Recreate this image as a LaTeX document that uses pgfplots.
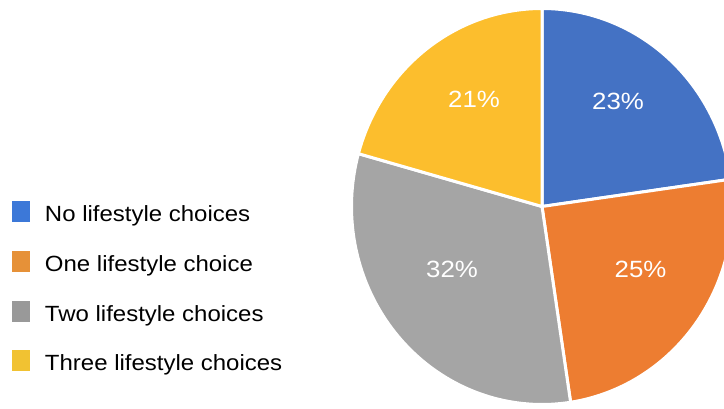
\documentclass[border=0pt]{standalone}
\usepackage{fontspec}
\setmainfont{Liberation Sans}
\newfontfamily\legfont[FakeStretch=1.09]{Liberation Sans}
\newfontfamily\labfont[FakeStretch=1.1]{Liberation Sans}
\usepackage{pgfplots}
\pgfplotsset{compat=1.18}
\usepackage{pgfplotstable}

\definecolor{pieblue}{RGB}{68,114,196}
\definecolor{pieorange}{RGB}{237,125,49}
\definecolor{piegray}{RGB}{165,165,165}
\definecolor{pieyellow}{RGB}{252,190,45}
\definecolor{legblue}{RGB}{60,120,216}
\definecolor{legorange}{RGB}{230,145,56}
\definecolor{leggray}{RGB}{153,153,153}
\definecolor{legyellow}{RGB}{241,194,50}

% share of each category (percent), clockwise from 12 o'clock
\pgfplotstableread{
value
22.8
24.8
31.7
20.7
}\piedata

% label positions (px coordinates of the picture) and printed percentages
\pgfplotstableread{
x y lab
618 307 23
640.5 139 25
452 139 32
474 309 21
}\labdata

\pgfplotstablegetelem{0}{value}\of\piedata \let\vA\pgfplotsretval
\pgfplotstablegetelem{1}{value}\of\piedata \let\vB\pgfplotsretval
\pgfplotstablegetelem{2}{value}\of\piedata \let\vC\pgfplotsretval
\pgfplotstablegetelem{3}{value}\of\piedata \let\vD\pgfplotsretval
\pgfmathsetmacro\aZ{90}
\pgfmathsetmacro\aA{90-3.6*\vA}
\pgfmathsetmacro\aB{\aA-3.6*\vB}
\pgfmathsetmacro\aC{\aB-3.6*\vC}
\pgfmathsetmacro\aD{\aC-3.6*\vD}

\def\cx{542}
\def\cy{201.5}
\def\rx{190.5}
\def\ry{198}

\begin{document}
\begin{tikzpicture}
\begin{axis}[
  width=724pt, height=408pt, scale only axis,
  xmin=0, xmax=724, ymin=0, ymax=408,
  hide axis,
  legend cell align=left,
  legend image code/.code={\fill[#1] (0pt,-6pt) rectangle (18pt,15pt); \path (33pt,0pt);},
  legend style={at={(axis cs:12,207)}, anchor=north west, draw=none, fill=none,
    inner sep=0pt, outer sep=0pt, row sep=24.3pt,
    font=\legfont\fontsize{22}{26}\selectfont,
    nodes={inner sep=0pt, text height=16pt, text depth=5pt}},
]
\addlegendimage{fill=legblue, draw=none}
\addlegendentry{No lifestyle choices}
\addlegendimage{fill=legorange, draw=none}
\addlegendentry{One lifestyle choice}
\addlegendimage{fill=leggray, draw=none}
\addlegendentry{Two lifestyle choices}
\addlegendimage{fill=legyellow, draw=none}
\addlegendentry{Three lifestyle choices}

\addplot[forget plot, fill=pieblue, draw=white, line width=3pt, line join=round, domain=\aA:\aZ, samples=80, variable=\t]
  ({\cx+\rx*cos(\t)},{\cy+\ry*sin(\t)}) -- (axis cs:\cx,\cy) -- cycle;
\addplot[forget plot, fill=pieorange, draw=white, line width=3pt, line join=round, domain=\aB:\aA, samples=80, variable=\t]
  ({\cx+\rx*cos(\t)},{\cy+\ry*sin(\t)}) -- (axis cs:\cx,\cy) -- cycle;
\addplot[forget plot, fill=piegray, draw=white, line width=3pt, line join=round, domain=\aC:\aB, samples=80, variable=\t]
  ({\cx+\rx*cos(\t)},{\cy+\ry*sin(\t)}) -- (axis cs:\cx,\cy) -- cycle;
\addplot[forget plot, fill=pieyellow, draw=white, line width=3pt, line join=round, domain=\aD:\aC, samples=80, variable=\t]
  ({\cx+\rx*cos(\t)},{\cy+\ry*sin(\t)}) -- (axis cs:\cx,\cy) -- cycle;

\addplot[forget plot, only marks, mark=none, point meta=explicit symbolic,
  nodes near coords={\pgfplotspointmeta\%}, nodes near coords align={center},
  every node near coord/.append style={anchor=center, text=white, inner sep=0pt,
    font=\labfont\fontsize{23.5}{28}\selectfont}]
  table[x=x, y=y, meta=lab] {\labdata};
\end{axis}
\pgfresetboundingbox
\path (current axis.south west) rectangle (current axis.north east);
\end{tikzpicture}
\end{document}
